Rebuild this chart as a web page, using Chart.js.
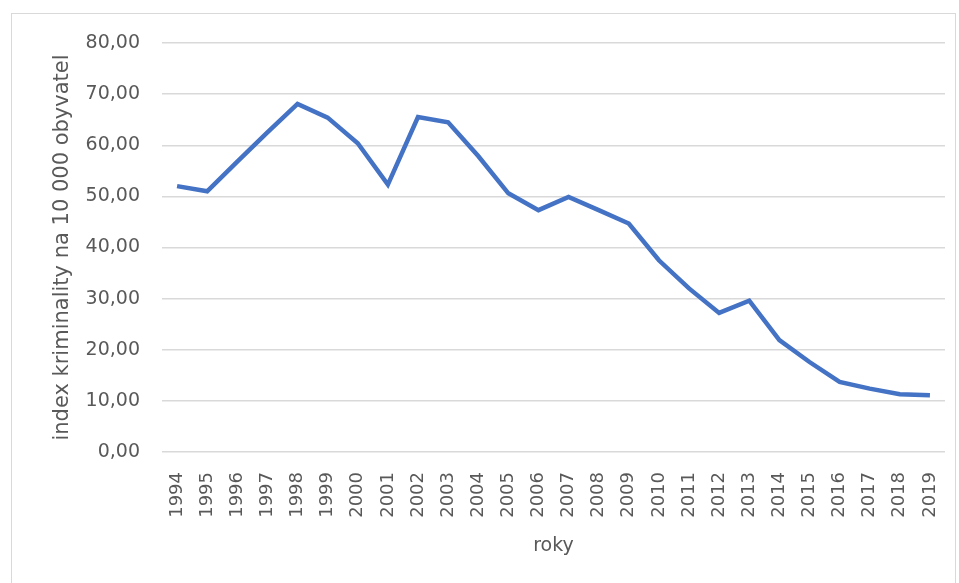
<!DOCTYPE html>
<html>
<head>
<meta charset="utf-8">
<script src="https://cdn.jsdelivr.net/npm/chart.js@4"></script>
<style>
    html, body { margin: 0; padding: 0; background: #fff; }
    #frame {
        position: absolute; left: 11px; top: 13px; width: 945px; height: 600px;
        border: 1px solid #d9d9d9; box-sizing: border-box;
    }
    #wrap { position: absolute; left: 0; top: 0; width: 959px; height: 583px; }
</style>
</head>
<body>
<div id="frame"></div>
<div id="wrap"><canvas id="chart"></canvas></div>
<script>
    // roky a hodnoty indexu kriminality
    const years = ['1994', '1995', '1996', '1997', '1998', '1999', '2000', '2001', '2002', '2003',
        '2004', '2005', '2006', '2007', '2008', '2009', '2010', '2011', '2012', '2013',
        '2014', '2015', '2016', '2017', '2018', '2019'];
    const crimeIndex = [52.0, 51.0, 56.8, 62.5, 68.1, 65.4, 60.4, 52.3, 65.5, 64.5,
        57.9, 50.6, 47.3, 49.9, 47.3, 44.7, 37.5, 32.0, 27.2, 29.6,
        21.9, 17.6, 13.7, 12.4, 11.3, 11.1];
    const yTicks = [0, 10, 20, 30, 40, 50, 60, 70, 80];

    const textColor = '#595959';
    const fontFamily = '"DejaVu Sans", sans-serif';

    new Chart(document.getElementById('chart'), {
        type: 'line',
        data: {
            labels: years,
            datasets: [{
                data: crimeIndex,
                borderColor: '#4472C4',
                borderWidth: 4.5,
                pointRadius: 0,
                tension: 0,
                fill: false
            }]
        },
        options: {
            responsive: true,
            maintainAspectRatio: false,
            animation: false,
            layout: { padding: { top: 43, right: 14, bottom: 0, left: 0 } },
            plugins: { legend: { display: false }, tooltip: { enabled: false } },
            scales: {
                x: {
                    offset: true,
                    grid: { display: false },
                    border: { display: false },
                    ticks: {
                        color: textColor,
                        font: { family: fontFamily, size: 18 },
                        minRotation: 90,
                        maxRotation: 90,
                        padding: 12,
                        autoSkip: false
                    },
                    title: {
                        display: true,
                        text: 'roky',
                        color: textColor,
                        font: { family: fontFamily, size: 19 },
                        padding: { top: 0, bottom: 26 }
                    },
                    afterFit: scale => {
                        scale.height = 131;
                        scale.paddingLeft = 0;
                        scale.paddingRight = 0;
                    }
                },
                y: {
                    min: 0,
                    max: 80,
                    afterBuildTicks: scale => { scale.ticks = yTicks.map(v => ({ value: v })); },
                    grid: { color: '#d9d9d9', lineWidth: 1.5, drawTicks: false },
                    border: { display: false },
                    ticks: {
                        color: textColor,
                        font: { family: fontFamily, size: 19 },
                        padding: 22,
                        callback: v => v.toFixed(2).replace('.', ',')
                    },
                    title: {
                        display: true,
                        text: 'index kriminality na 10 000 obyvatel',
                        color: textColor,
                        font: { family: fontFamily, size: 21 },
                        padding: { top: 50, bottom: 0 }
                    },
                    afterFit: scale => { scale.width = 162; }
                }
            }
        }
    });
</script>
</body>
</html>
